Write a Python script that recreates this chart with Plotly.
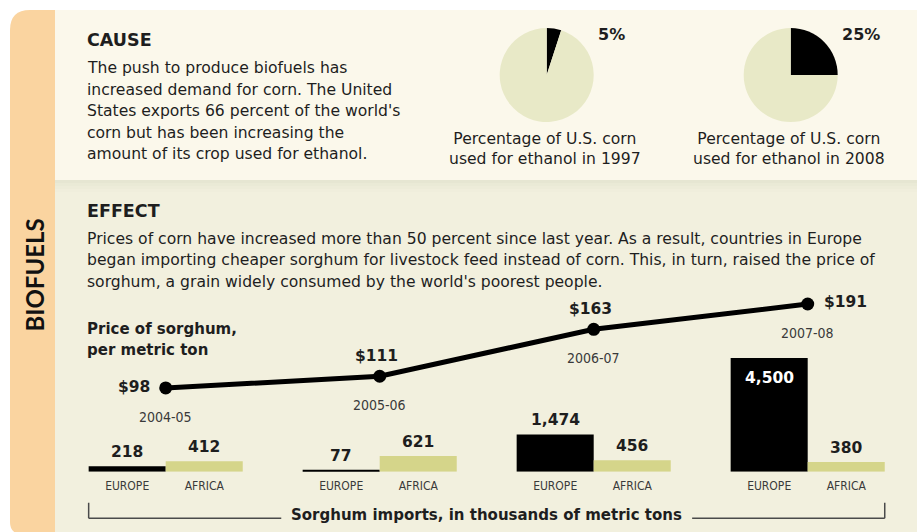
import plotly.graph_objects as go

W, H = 917, 532

# ---------------- data ----------------
seasons = ["2004-05", "2005-06", "2006-07", "2007-08"]
sorghum_price = [98, 111, 163, 191]          # US$ per metric ton
europe_imports = [218, 77, 1474, 4500]       # thousands of metric tons
africa_imports = [412, 621, 456, 380]        # thousands of metric tons
regions = ["EUROPE", "AFRICA"]
ethanol_years = ["1997", "2008"]
ethanol_share = [5, 25]                      # % of U.S. corn used for ethanol

cause_title = "CAUSE"
cause_lines = [
    "The push to produce biofuels has",
    "increased demand for corn. The United",
    "States exports 66 percent of the world's",
    "corn but has been increasing the",
    "amount of its crop used for ethanol.",
]
effect_title = "EFFECT"
effect_lines = [
    "Prices of corn have increased more than 50 percent since last year. As a result, countries in Europe",
    "began importing cheaper sorghum for livestock feed instead of corn. This, in turn, raised the price of",
    "sorghum, a grain widely consumed by the world's poorest people.",
]
price_title = ["Price of sorghum,", "per metric ton"]
imports_title = "Sorghum imports, in thousands of metric tons"
side_title = "BIOFUELS"

# ---------------- styles ----------------
INK = "#1e1e1e"
GREY = "#3a3a3a"
ORANGE = "#fad4a0"
CREAM_TOP = "#fbf8eb"
CREAM_BOT = "#f2f0de"
PIE_LIGHT = "#e8e9c7"
AFRICA_COL = "#d5d58a"
BODY_FONT = "DejaVu Sans"
BODY_SIZE = 15.6
BOLD_FONT = "DejaVu Sans"
NARROW_FONT = "DejaVu Sans Condensed, Liberation Sans Narrow, sans-serif"


def px(x):
    return x / W


def py(y):
    return 1 - y / H


idx = list(range(len(seasons)))
bar_w = 0.36
eu_x = [i - bar_w / 2 for i in idx]
af_x = [i + bar_w / 2 for i in idx]

fig = go.Figure()

# pies
pie_centers = [(546.7, 75), (790.7, 75)]
pie_r = 47
for (cx, cy), share in zip(pie_centers, ethanol_share):
    fig.add_trace(go.Pie(
        values=[share, 100 - share],
        marker=dict(colors=["#000000", PIE_LIGHT], line=dict(width=0)),
        sort=False, direction="clockwise", rotation=0,
        textinfo="none", hoverinfo="skip", showlegend=False,
        domain=dict(x=[px(cx - pie_r), px(cx + pie_r)],
                    y=[py(cy + pie_r), py(cy - pie_r)]),
    ))

# bars
fig.add_trace(go.Bar(x=eu_x, y=europe_imports, width=bar_w, marker_color="#000000",
                     marker_line_width=0, hoverinfo="skip", showlegend=False))
fig.add_trace(go.Bar(x=af_x, y=africa_imports, width=bar_w, marker_color=AFRICA_COL,
                     marker_line_width=0, hoverinfo="skip", showlegend=False))

# price line
fig.add_trace(go.Scatter(x=idx, y=sorghum_price, yaxis="y2", mode="lines+markers",
                         line=dict(color="#000000", width=5),
                         marker=dict(color="#000000", size=13),
                         cliponaxis=False, hoverinfo="skip", showlegend=False))

ann = []


def txt(text, x, y, size, family, color=INK, xanchor="left", yanchor="middle", **kw):
    ann.append(dict(text=text, x=x, y=y, xref=kw.pop("xref", "paper"), yref=kw.pop("yref", "paper"),
                    showarrow=False, xanchor=xanchor, yanchor=yanchor,
                    font=dict(size=size, family=family, color=color), **kw))


# side title
txt(f"<b>{side_title}</b>", px(33.5), py(275), 24, "Lato", color="#111", xanchor="center", textangle=-90)

# cause block
txt(f"<b>{cause_title}</b>", px(85), py(40), 17.5, BOLD_FONT)
for k, line in enumerate(cause_lines):
    txt(line, px(85), py(68.3 + 21.4 * k), BODY_SIZE, BODY_FONT)

# pie labels
for (cx, cy), share, yr in zip(pie_centers, ethanol_share, ethanol_years):
    txt(f"<b>{share}%</b>", px(cx + 49), py(34.5), 16, BOLD_FONT)
    txt(f"Percentage of U.S. corn<br>used for ethanol in {yr}", px(cx - 2), py(148.5),
        BODY_SIZE, BODY_FONT, xanchor="center")

# effect block
txt(f"<b>{effect_title}</b>", px(85), py(210.7), 17.5, BOLD_FONT)
for k, line in enumerate(effect_lines):
    txt(line, px(85), py(239 + 21.3 * k), BODY_SIZE, BODY_FONT)
for k, line in enumerate(price_title):
    txt(f"<b>{line}</b>", px(85), py(329.3 + 21 * k), 15, BOLD_FONT)

# price labels
placement = ["left", "above", "above", "right"]
for i, (p, where) in enumerate(zip(sorghum_price, placement)):
    label = f"<b>${p}</b>"
    if where == "left":
        txt(label, i, p, 15.5, BOLD_FONT, xref="x", yref="y2", xanchor="right", xshift=-14, yshift=1)
    elif where == "right":
        txt(label, i, p, 15.5, BOLD_FONT, xref="x", yref="y2", xanchor="left", xshift=14, yshift=2)
    else:
        txt(label, i, p, 15.5, BOLD_FONT, xref="x", yref="y2", xanchor="center", xshift=-3, yshift=20)
    txt(seasons[i], i, p, 14, NARROW_FONT, color=GREY, xref="x", yref="y2",
        xanchor="center", yshift=-29)

# bar value labels
for xs, vals in ((eu_x, europe_imports), (af_x, africa_imports)):
    for x, v in zip(xs, vals):
        if v > 3000:
            txt(f"<b>{v:,}</b>", x, v, 15.5, BOLD_FONT, color="#ffffff", xref="x", yref="y",
                xanchor="center", yanchor="top", yshift=-9)
        else:
            txt(f"<b>{v:,}</b>", x, v, 15.5, BOLD_FONT, xref="x", yref="y",
                xanchor="center", yanchor="bottom", yshift=3)

# imports caption
txt(f"<b>{imports_title}</b>", 1.5, py(515), 15, BOLD_FONT, xref="x", xanchor="center")

# ---------------- background shapes ----------------
shapes = []
r1, r2 = 20, 12
top, bot, left, right = 10, 534, 10, 930
path = (f"M {px(left)},{py(top + r1)} Q {px(left)},{py(top)} {px(left + r1)},{py(top)} "
        f"L {px(right)},{py(top)} L {px(right)},{py(bot)} L {px(left + r2)},{py(bot)} "
        f"Q {px(left)},{py(bot)} {px(left)},{py(bot - r2)} Z")
shapes.append(dict(type="path", path=path, xref="paper", yref="paper", fillcolor=ORANGE,
                   line=dict(width=0), layer="below"))
shapes.append(dict(type="rect", x0=px(55), x1=px(right), y0=py(180), y1=py(top), xref="paper",
                   yref="paper", fillcolor=CREAM_TOP, line=dict(width=0), layer="below"))
shapes.append(dict(type="rect", x0=px(55), x1=px(right), y0=py(bot), y1=py(180), xref="paper",
                   yref="paper", fillcolor=CREAM_BOT, line=dict(width=0), layer="below"))
for k, col in enumerate(["#e6e6d2", "#eaead6", "#edecd9", "#f0eedc"]):
    shapes.append(dict(type="rect", x0=px(55), x1=px(right), y0=py(183 + 3 * k), y1=py(180 + 3 * k),
                       xref="paper", yref="paper", fillcolor=col, line=dict(width=0), layer="below"))

# bracket under bars
br_col = "#4a4a4a"
br_y_top, br_y_bot = 502.7, 518.3
gap = 0.96
lx, rx = -bar_w, idx[-1] + bar_w
for seg in ((lx, 1.5 - gap), (1.5 + gap, rx)):
    shapes.append(dict(type="line", x0=seg[0], x1=seg[1], y0=py(br_y_bot), y1=py(br_y_bot),
                       xref="x", yref="paper", line=dict(color=br_col, width=1.5)))
for xv in (lx, rx):
    shapes.append(dict(type="line", x0=xv, x1=xv, y0=py(br_y_top), y1=py(br_y_bot),
                       xref="x", yref="paper", line=dict(color=br_col, width=1.5)))

fig.update_layout(
    width=W, height=H, margin=dict(l=0, r=0, t=0, b=0),
    paper_bgcolor="#ffffff", plot_bgcolor="rgba(0,0,0,0)",
    barmode="overlay", shapes=shapes, annotations=ann, showlegend=False,
    xaxis=dict(range=[-0.5, 3.5], domain=[px(58.7), px(914.7)], showgrid=False, zeroline=False,
               showline=False, ticks="", tickvals=sorted(eu_x + af_x),
               ticktext=[regions[k % 2] for k in range(2 * len(seasons))],
               tickfont=dict(family=NARROW_FONT, size=12, color=GREY), ticklabelstandoff=5,
               fixedrange=True),
    yaxis=dict(range=[0, 4500], domain=[py(471.7), py(358)], visible=False, fixedrange=True),
    yaxis2=dict(range=[88, 200], domain=[py(397.0), py(295.9)], anchor="x", visible=False,
                fixedrange=True),
)

fig.write_html("out.html", config=dict(displayModeBar=False),
               post_script="document.body.style.margin='0';document.body.style.overflow='hidden';")
